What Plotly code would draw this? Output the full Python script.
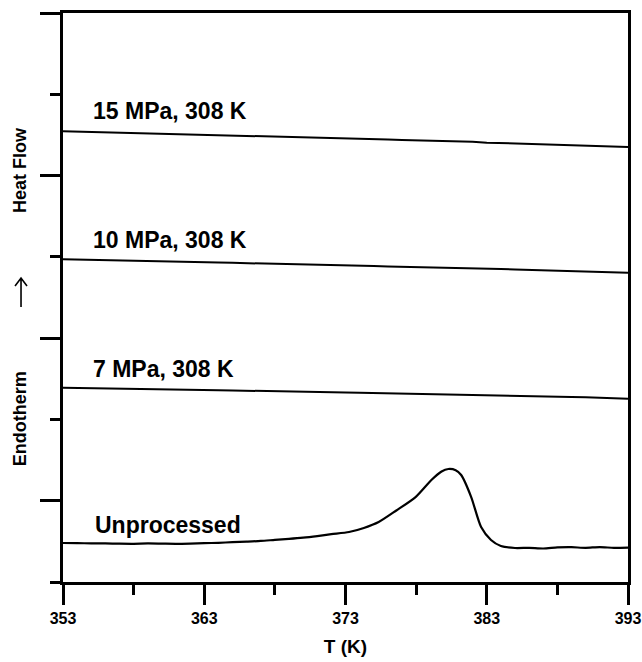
import plotly.graph_objects as go

temps = list(range(353, 394))

mpa15 = [5.545, 5.541, 5.536, 5.531, 5.528, 5.523, 5.519, 5.514, 5.511, 5.505,
         5.501, 5.497, 5.492, 5.488, 5.482, 5.478, 5.474, 5.469, 5.466, 5.460,
         5.456, 5.452, 5.447, 5.444, 5.438, 5.435, 5.430, 5.426, 5.421, 5.417,
         5.405, 5.400, 5.394, 5.386, 5.383, 5.377, 5.372, 5.369, 5.364, 5.358,
         5.352]
mpa10 = [3.970, 3.967, 3.963, 3.962, 3.956, 3.953, 3.950, 3.945, 3.942, 3.938,
         3.934, 3.930, 3.926, 3.923, 3.918, 3.915, 3.910, 3.907, 3.902, 3.899,
         3.895, 3.890, 3.887, 3.882, 3.879, 3.874, 3.870, 3.866, 3.862, 3.857,
         3.853, 3.850, 3.845, 3.841, 3.836, 3.833, 3.827, 3.823, 3.820, 3.815,
         3.805]
mpa7 = [2.390, 2.388, 2.385, 2.383, 2.380, 2.377, 2.374, 2.373, 2.368, 2.366,
        2.362, 2.360, 2.356, 2.354, 2.350, 2.347, 2.344, 2.342, 2.338, 2.336,
        2.332, 2.329, 2.326, 2.323, 2.320, 2.317, 2.313, 2.311, 2.307, 2.304,
        2.300, 2.297, 2.292, 2.290, 2.286, 2.280, 2.276, 2.272, 2.268, 2.262,
        2.255]

temps_unproc = [353, 354, 355, 356, 357, 358, 359, 360, 361, 362,
                363, 364, 365, 366, 367, 368, 369, 370, 371, 372,
                373.25, 374.3, 375.35, 376.6, 377.96, 379.08, 379.8, 380.28, 380.8, 381.19,
                381.9, 382.6, 383.3, 384.0, 385.0, 386, 387, 388, 389, 390,
                391, 392, 393]
unproc = [0.480, 0.478, 0.476, 0.474, 0.471, 0.470, 0.474, 0.472, 0.470, 0.473,
          0.478, 0.482, 0.490, 0.497, 0.505, 0.518, 0.530, 0.545, 0.565, 0.588,
          0.615, 0.665, 0.738, 0.880, 1.045, 1.255, 1.360, 1.390, 1.375, 1.316,
          1.045, 0.676, 0.517, 0.443, 0.418, 0.420, 0.412, 0.425, 0.428, 0.420,
          0.430, 0.420, 0.423]

labels = ["15 MPa, 308 K", "10 MPa, 308 K", "7 MPa, 308 K", "Unprocessed"]
label_x = [355.0, 355.0, 355.0, 355.1]
label_y = [5.79, 4.21, 2.62, 0.70]

x_ticks = [353, 363, 373, 383, 393]
x_minor = [358, 368, 378, 388]
y_major = [1, 3, 5, 7]
y_minor = [0, 2, 4, 6]

FONT = "Liberation Sans, Arial, sans-serif"

fig = go.Figure()
for xs, ys in [(temps, mpa15), (temps, mpa10), (temps, mpa7)]:
    fig.add_trace(go.Scatter(x=xs, y=ys, mode="lines",
                             line=dict(color="black", width=2),
                             showlegend=False, hoverinfo="skip"))
fig.add_trace(go.Scatter(x=temps_unproc, y=unproc, mode="lines",
                         line=dict(color="black", width=2.2, shape="spline", smoothing=0.7),
                         showlegend=False, hoverinfo="skip"))

for t, lx, ly in zip(labels, label_x, label_y):
    fig.add_annotation(x=lx, y=ly, text="<b>%s</b>" % t, showarrow=False,
                       xanchor="left", yanchor="middle",
                       font=dict(family=FONT, size=23, color="black"))

# y-axis title pieces
fig.add_annotation(xref="paper", yref="paper", x=-0.076, y=0.286, text="<b>Endotherm</b>",
                   textangle=-90, showarrow=False, xanchor="center", yanchor="middle",
                   font=dict(family=FONT, size=18, color="black"))
fig.add_annotation(xref="paper", yref="paper", x=-0.076, y=0.724, text="<b>Heat Flow</b>",
                   textangle=-90, showarrow=False, xanchor="center", yanchor="middle",
                   font=dict(family=FONT, size=18, color="black"))

# thin upward arrow between the two title words
ax_x = -0.0743
y_bot, y_top = 0.4833, 0.5343
dx, dy = 0.0106, 0.0141
fig.add_shape(type="path", xref="paper", yref="paper",
              path=(f"M {ax_x},{y_bot} L {ax_x},{y_top} "
                    f"M {ax_x - dx},{y_top - dy} L {ax_x},{y_top} L {ax_x + dx},{y_top - dy}"),
              line=dict(color="black", width=1.6))

fig.update_xaxes(range=[353, 393], tickmode="array", tickvals=x_ticks,
                 ticktext=["<b>%d</b>" % v for v in x_ticks],
                 ticks="outside", ticklen=20, tickwidth=2.5, tickcolor="black",
                 minor=dict(tickmode="array", tickvals=x_minor, ticks="outside",
                            ticklen=10, tickwidth=2.5, tickcolor="black"),
                 showline=True, linewidth=2.8, linecolor="black", mirror=True,
                 showgrid=False, zeroline=False, automargin=False,
                 ticklabeloverflow="allow",
                 tickfont=dict(family=FONT, size=16, color="black"),
                 title=dict(text="<b>T (K)</b>", font=dict(family=FONT, size=19, color="black"),
                            standoff=14))
fig.update_yaxes(range=[0, 7], tickmode="array", tickvals=y_major, showticklabels=False,
                 ticks="outside", ticklen=20, tickwidth=2.5, tickcolor="black",
                 minor=dict(tickmode="array", tickvals=y_minor, ticks="outside",
                            ticklen=10, tickwidth=2.5, tickcolor="black"),
                 showline=True, linewidth=2.8, linecolor="black", mirror=True,
                 showgrid=False, zeroline=False, automargin=False)

fig.update_layout(width=642, height=662, plot_bgcolor="white", paper_bgcolor="white",
                  margin=dict(l=63, r=14, t=13, b=80), showlegend=False)

fig.write_html("out.html", config={"displayModeBar": False},
               post_script="document.body.style.margin='0';document.body.style.overflow='hidden';")
